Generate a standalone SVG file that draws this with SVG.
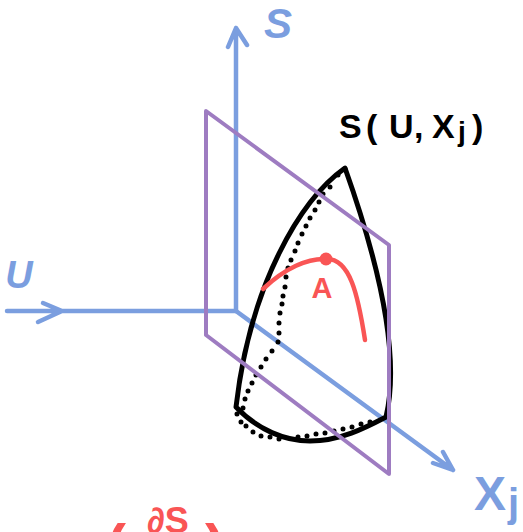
<svg xmlns="http://www.w3.org/2000/svg" width="523" height="532" viewBox="0 0 523 532">
<style>
.ln{fill:none;stroke-linecap:round;stroke-linejoin:round}
.ax{stroke:#7b9edf;stroke-width:4.5}
.pl{stroke:#9e7cc1;stroke-width:4}
.bk{stroke:#000;stroke-width:5}
.rd{stroke:#f95555;stroke-width:4.5}
text{font-family:"Liberation Sans",Arial,sans-serif;font-weight:700}
.tb{fill:#7b9edf}.tk{fill:#000}.tr{fill:#f95555}
</style>
<rect width="523" height="532" fill="#fff"/>
<g id="connectors">
<path class="ln ax" d="M236 311V28M228 47L236 28L247 45"/>
<path class="ln ax" d="M7 311H236M43 303L62 311L38 322"/>
<path class="ln ax" d="M236 311L453 470M433 463L453 470L443 452"/>
</g>
<g id="surface">
<path class="ln bk" d="M345 168C300 200 250 285 236 407C258 430 285 441 310 441C340 441 365 428 386 417C396 375 392 300 345 168Z"/>
<path class="ln" stroke="#000" stroke-width="5" d="M345 169h0M338 175h0M330 187h0M323 194h0M319 202h0M315 210h0M310 218h0M306 226h0M302 234h0M298 243h0M295 251h0M291 260h0M288 268h0M286 277h0M285 287h0M283 296h0M282 304h0M280 313h0M279 323h0M279 333h0M278 342h0M272 351h0M266 359h0M261 367h0M256 375h0M252 383h0M248 391h0M245 399h0M243 408h0M237 414h0M241 422h0M246 426h0M253 432h0M261 436h0M270 437h0M279 439h0M298 437h0M307 436h0M316 434h0M325 433h0M334 431h0M343 429h0M352 427h0M361 424h0M370 422h0"/>
</g>
<g id="plane">
<path class="ln pl" d="M206 111L389 245V474L206 335Z"/>
</g>
<g id="curve-a">
<path class="ln rd" d="M263 289C285 268 308 258 326 259C350 258 358 295 365 340"/>
<circle cx="326" cy="259" r="6.5" fill="#f95555"/>
<text class="tr" x="322" y="298" font-size="29" text-anchor="middle">A</text>
</g>
<g id="label-s"><text class="tb" x="278" y="38" font-size="42" font-style="italic" text-anchor="middle">S</text></g>
<g id="label-u"><text class="tb" x="19" y="288" font-size="38" font-style="italic" text-anchor="middle">U</text></g>
<g id="label-xj"><text class="tb" x="474" y="510" font-size="48">X<tspan font-size="40" x="508" y="517">j</tspan></text></g>
<g id="label-surface"><text class="tk" font-size="34" y="138" x="339 366 389 414 432">S(U,X<tspan font-size="28" x="458" y="141">j</tspan><tspan font-size="34" x="472" y="138">)</tspan></text></g>
<g id="label-partial"><text class="tr" font-size="60" x="106" y="566">(</text><text class="tr" font-size="36" x="147" y="533">∂S</text><text class="tr" font-size="60" x="205" y="566">)</text></g>
</svg>
